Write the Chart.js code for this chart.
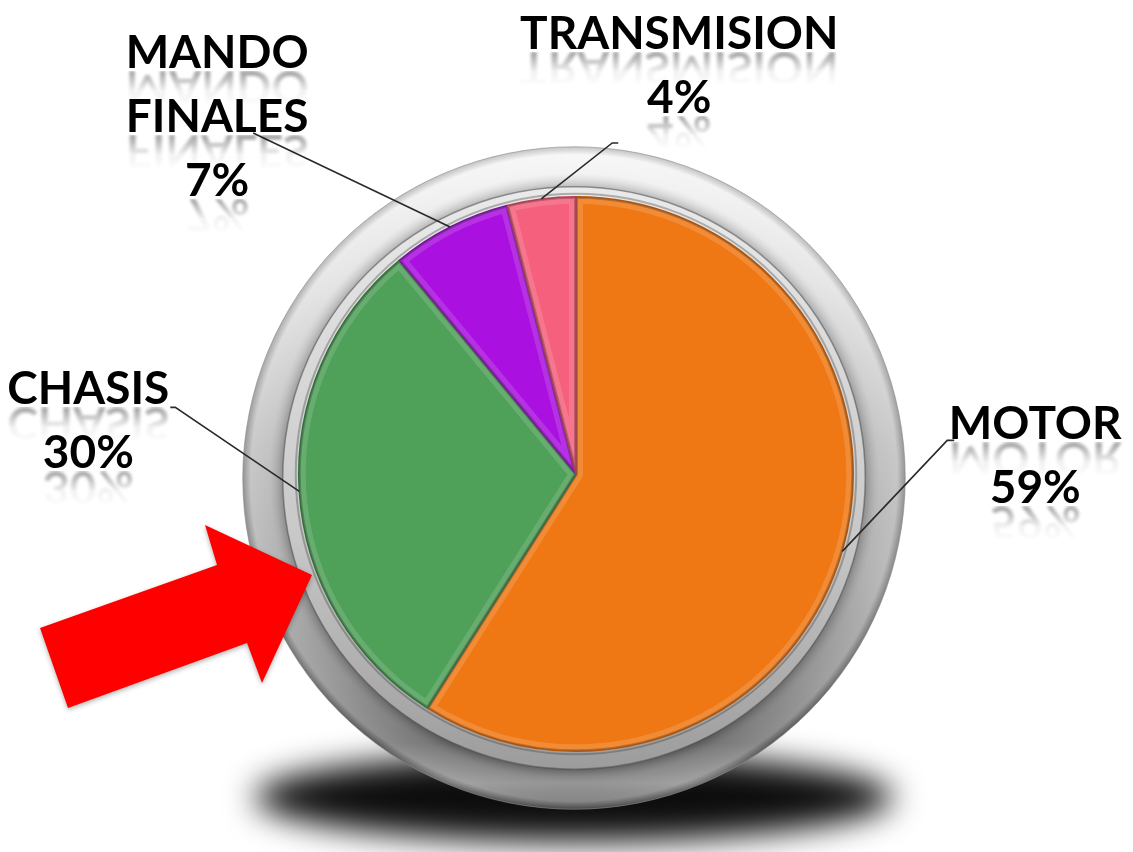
<!DOCTYPE html>
<html>
<head>
<meta charset="utf-8">
<script src="https://cdn.jsdelivr.net/npm/chart.js@4"></script>
<style>
  html, body { margin: 0; padding: 0; background: #ffffff; }
  #wrap { width: 1133px; height: 852px; position: relative; }
</style>
</head>
<body>
<div id="wrap"><canvas id="pieChart"></canvas></div>
<script>
// ----------------------------
// データ
// ----------------------------

const labels = ["MOTOR", "CHASIS", "MANDO FINALES", "TRANSMISION"];
const values = [59, 30, 7, 4];
const labelLines = [["MOTOR"], ["CHASIS"], ["MANDO", "FINALES"], ["TRANSMISION"]];

const sliceColors = ["#f07814", "#4fa058", "#aa10e0", "#f5607c"];
const sliceBorders = ["#b8570a", "#2f7437", "#7a0aa6", "#c23c55"];

// leader line / text placement (relative to the slice's outer mid point)
const labelPlace = [
    { dx: 105, dy: -111, stub: 7,  tx: 81,  ty: -1 },
    { dx: -124, dy: -84, stub: -5, tx: -82, ty: -3 },
    { dx: -197, dy: -94, stub: 0,  tx: -36, ty: -65 },
    { dx: 71,  dy: -56,  stub: 6,  tx: 61,  ty: -94 }
];

const FONT = "bold 46px Lato, 'Open Sans', sans-serif";
const LINE_GAP = 64;

// ----------------------------
// 反射付きテキスト
// ----------------------------

function reflectedText(ctx, text, cx, baseline) {

    ctx.save();
    ctx.font = FONT;
    ctx.textAlign = "center";
    ctx.textBaseline = "alphabetic";
    ctx.fillStyle = "#000";
    ctx.fillText(text, cx, baseline);

    const w = Math.ceil(ctx.measureText(text).width) + 8;
    const h = 36;
    const oc = document.createElement("canvas");
    oc.width = w;
    oc.height = h;
    const o = oc.getContext("2d");
    o.font = FONT;
    o.textAlign = "center";
    o.textBaseline = "alphabetic";
    o.filter = "blur(1.5px)";
    o.save();
    o.scale(1, -1);
    o.fillStyle = "#000";
    o.fillText(text, w / 2, 0);
    o.restore();
    o.filter = "none";
    o.globalCompositeOperation = "destination-in";
    const g = o.createLinearGradient(0, 0, 0, h);
    g.addColorStop(0, "rgba(0,0,0,0.38)");
    g.addColorStop(0.55, "rgba(0,0,0,0.06)");
    g.addColorStop(1, "rgba(0,0,0,0)");
    o.fillStyle = g;
    o.fillRect(0, 0, w, h);

    ctx.drawImage(oc, cx - w / 2, baseline + 3);
    ctx.restore();

}

// ----------------------------
// 銀のリングと影
// ----------------------------

const bezelPlugin = {
    id: "bezel",
    beforeDatasetsDraw(chart) {
        const arc = chart.getDatasetMeta(0).data[0];
        if (!arc) return;
        const ctx = chart.ctx;
        const cx = arc.x - 2;
        const cy = arc.y + 4;
        const rOut = arc.outerRadius + 54;
        const rLip = arc.outerRadius + 14;

        ctx.save();

        // shadow below
        ctx.filter = "blur(16px)";
        ctx.fillStyle = "rgba(0,0,0,0.95)";
        ctx.beginPath();
        ctx.ellipse(cx, cy + rOut - 12, rOut - 12, 44, 0, 0, Math.PI * 2);
        ctx.fill();
        ctx.filter = "none";

        // outer ring
        let g = ctx.createLinearGradient(0, cy - rOut, 0, cy + rOut);
        g.addColorStop(0, "#f6f6f6");
        g.addColorStop(0.2, "#e2e2e2");
        g.addColorStop(0.45, "#bdbdbd");
        g.addColorStop(0.65, "#a8a8a8");
        g.addColorStop(0.8, "#8a8a8a");
        g.addColorStop(0.9, "#6c6c6c");
        g.addColorStop(0.96, "#8a8a8a");
        g.addColorStop(1, "#5a5a5a");
        ctx.fillStyle = g;
        ctx.beginPath();
        ctx.arc(cx, cy, rOut, 0, Math.PI * 2);
        ctx.fill();

        g = ctx.createRadialGradient(cx, cy, rLip, cx, cy, rOut);
        g.addColorStop(0, "rgba(0,0,0,0.22)");
        g.addColorStop(0.35, "rgba(255,255,255,0.10)");
        g.addColorStop(0.8, "rgba(255,255,255,0.20)");
        g.addColorStop(1, "rgba(0,0,0,0.20)");
        ctx.fillStyle = g;
        ctx.beginPath();
        ctx.arc(cx, cy, rOut, 0, Math.PI * 2);
        ctx.fill();

        ctx.strokeStyle = "rgba(140,140,140,0.6)";
        ctx.lineWidth = 1;
        ctx.stroke();

        // inner lip
        g = ctx.createLinearGradient(0, cy - rLip, 0, cy + rLip);
        g.addColorStop(0, "#eaeaea");
        g.addColorStop(0.6, "#c8c8c8");
        g.addColorStop(1, "#9c9c9c");
        ctx.fillStyle = g;
        ctx.beginPath();
        ctx.arc(cx, cy, rLip, 0, Math.PI * 2);
        ctx.fill();
        ctx.strokeStyle = "rgba(80,80,80,0.55)";
        ctx.lineWidth = 1.5;
        ctx.stroke();

        ctx.beginPath();
        ctx.arc(arc.x, arc.y, arc.outerRadius + 3, 0, Math.PI * 2);
        ctx.strokeStyle = "rgba(60,60,60,0.35)";
        ctx.lineWidth = 2;
        ctx.stroke();

        ctx.restore();
    }
};

// ----------------------------
// 立体感・ラベル・矢印
// ----------------------------

const labelPlugin = {
    id: "labels",
    afterDatasetsDraw(chart) {
        const ctx = chart.ctx;
        const arcs = chart.getDatasetMeta(0).data;

        // bevel on each slice
        arcs.forEach((a) => {
            ctx.save();
            ctx.beginPath();
            ctx.moveTo(a.x, a.y);
            ctx.arc(a.x, a.y, a.outerRadius, a.startAngle, a.endAngle);
            ctx.closePath();
            ctx.clip();
            ctx.lineJoin = "round";
            ctx.strokeStyle = "rgba(255,255,255,0.14)";
            ctx.lineWidth = 14;
            ctx.stroke();
            ctx.strokeStyle = "rgba(0,0,0,0.22)";
            ctx.lineWidth = 4;
            ctx.stroke();
            ctx.restore();
        });

        // leader lines + text
        arcs.forEach((a, i) => {
            const mid = (a.startAngle + a.endAngle) / 2;
            const ax = a.x + Math.cos(mid) * a.outerRadius;
            const ay = a.y + Math.sin(mid) * a.outerRadius;
            const p = labelPlace[i];
            const ex = ax + p.dx;
            const ey = ay + p.dy;

            ctx.save();
            ctx.strokeStyle = "#2a2a2a";
            ctx.lineWidth = 1.6;
            ctx.beginPath();
            ctx.moveTo(ax, ay);
            ctx.lineTo(ex, ey);
            ctx.lineTo(ex + p.stub, ey);
            ctx.stroke();
            ctx.restore();

            const tx = ex + p.stub + p.tx;
            let ty = ey + p.ty;
            const lines = labelLines[i].concat([values[i] + "%"]);
            lines.forEach((t) => {
                reflectedText(ctx, t, tx, ty);
                ty += LINE_GAP;
            });
        });

        // red arrow pointing at CHASIS (origin = arrow tip)
        const c = arcs[1];
        const ox = c.x - 264;
        const oy = c.y + 101;
        const pts = [
            [-272, 53], [-244, 133], [-65, 68], [-50, 108],
            [0, 0], [-107, -50], [-95, -10]
        ];
        ctx.save();
        ctx.shadowColor = "rgba(0,0,0,0.3)";
        ctx.shadowBlur = 5;
        ctx.shadowOffsetY = 2;
        ctx.fillStyle = "#ff0000";
        ctx.beginPath();
        pts.forEach((q, k) => {
            if (k === 0) ctx.moveTo(ox + q[0], oy + q[1]);
            else ctx.lineTo(ox + q[0], oy + q[1]);
        });
        ctx.closePath();
        ctx.fill();
        ctx.restore();
    }
};

// ----------------------------
// 円グラフ
// ----------------------------

new Chart(

document.getElementById("pieChart"),

{

type: "pie",

data: {

labels: labels,

datasets: [{

data: values,

backgroundColor: sliceColors,

borderColor: sliceBorders,

borderWidth: 1.5,

hoverOffset: 0

}]

},

options: {

responsive: true,

maintainAspectRatio: false,

animation: false,

layout: {

padding: { left: 298, right: 279, top: 196, bottom: 100 }

},

plugins: {

legend: { display: false },

tooltip: { enabled: false }

}

},

plugins: [bezelPlugin, labelPlugin]

}

);
</script>
</body>
</html>
